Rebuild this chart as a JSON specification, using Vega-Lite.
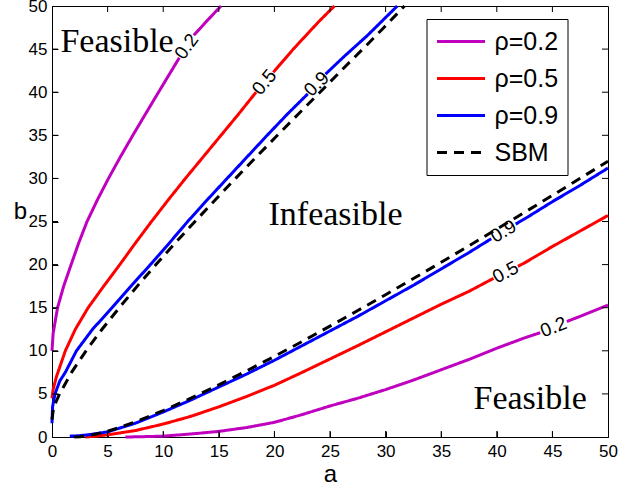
{
  "$schema": "https://vega.github.io/schema/vega-lite/v6.json",
  "width": 556,
  "height": 431,
  "autosize": {"type": "none"},
  "padding": {"left": 52, "top": 6, "right": 12, "bottom": 55},
  "background": "white",
  "config": {
    "view": {"stroke": "black", "strokeWidth": 1},
    "axis": {
      "grid": false, "domainColor": "black", "tickColor": "black", "labelColor": "black",
      "labelFont": "Liberation Sans", "labelFontSize": 17, "titleFont": "Liberation Sans",
      "titleFontSize": 24, "titleFontWeight": "normal", "titleColor": "black",
      "ticks": true, "tickSize": -6, "tickWidth": 1, "domainWidth": 1, "labelFlush": false, "labelOverlap": false, "zindex": 1
    }
  },
  "resolve": {"axis": {"x": "independent", "y": "independent"}},
  "datasets": {
    "curves": [
      {"s":"ρ=0.2","g":"pu1","a":0,"b":10},{"s":"ρ=0.2","g":"pu1","a":0.1,"b":12},{"s":"ρ=0.2","g":"pu1","a":0.3,"b":13.5},{"s":"ρ=0.2","g":"pu1","a":0.5,"b":15},{"s":"ρ=0.2","g":"pu1","a":1.05,"b":17.5},{"s":"ρ=0.2","g":"pu1","a":1.72,"b":20},{"s":"ρ=0.2","g":"pu1","a":2.4,"b":22.5},{"s":"ρ=0.2","g":"pu1","a":3.15,"b":25},{"s":"ρ=0.2","g":"pu1","a":4.08,"b":27.5},{"s":"ρ=0.2","g":"pu1","a":5.08,"b":30},{"s":"ρ=0.2","g":"pu1","a":6.15,"b":32.5},{"s":"ρ=0.2","g":"pu1","a":7.27,"b":35},{"s":"ρ=0.2","g":"pu1","a":8.42,"b":37.5},{"s":"ρ=0.2","g":"pu1","a":9.58,"b":40},{"s":"ρ=0.2","g":"pu1","a":10.75,"b":42.5},{"s":"ρ=0.2","g":"pu1","a":11.45,"b":44.0},
      {"s":"ρ=0.2","g":"pu2","a":12.75,"b":46.6},{"s":"ρ=0.2","g":"pu2","a":13.95,"b":48.3},{"s":"ρ=0.2","g":"pu2","a":15.2,"b":50},
      {"s":"ρ=0.2","g":"pl1","a":6.6,"b":0},{"s":"ρ=0.2","g":"pl1","a":8,"b":0.03},{"s":"ρ=0.2","g":"pl1","a":10,"b":0.1},{"s":"ρ=0.2","g":"pl1","a":12.5,"b":0.35},{"s":"ρ=0.2","g":"pl1","a":15,"b":0.65},{"s":"ρ=0.2","g":"pl1","a":17.5,"b":1.1},{"s":"ρ=0.2","g":"pl1","a":20,"b":1.7},{"s":"ρ=0.2","g":"pl1","a":22.5,"b":2.6},{"s":"ρ=0.2","g":"pl1","a":25,"b":3.6},{"s":"ρ=0.2","g":"pl1","a":27.5,"b":4.5},{"s":"ρ=0.2","g":"pl1","a":30,"b":5.5},{"s":"ρ=0.2","g":"pl1","a":32.5,"b":6.6},{"s":"ρ=0.2","g":"pl1","a":35,"b":7.8},{"s":"ρ=0.2","g":"pl1","a":37.5,"b":9.0},{"s":"ρ=0.2","g":"pl1","a":40,"b":10.3},{"s":"ρ=0.2","g":"pl1","a":42.5,"b":11.5},{"s":"ρ=0.2","g":"pl1","a":43.9,"b":12.1},
      {"s":"ρ=0.2","g":"pl2","a":46.3,"b":13.4},{"s":"ρ=0.2","g":"pl2","a":47.5,"b":14.0},{"s":"ρ=0.2","g":"pl2","a":50,"b":15.3},
      {"s":"ρ=0.5","g":"ru1","a":0,"b":4.5},{"s":"ρ=0.5","g":"ru1","a":0.1,"b":5.5},{"s":"ρ=0.5","g":"ru1","a":0.4,"b":7},{"s":"ρ=0.5","g":"ru1","a":0.8,"b":8.5},{"s":"ρ=0.5","g":"ru1","a":1.2,"b":10},{"s":"ρ=0.5","g":"ru1","a":2.1,"b":12.5},{"s":"ρ=0.5","g":"ru1","a":3.25,"b":15},{"s":"ρ=0.5","g":"ru1","a":4.65,"b":17.5},{"s":"ρ=0.5","g":"ru1","a":6.1,"b":20},{"s":"ρ=0.5","g":"ru1","a":7.5,"b":22.5},{"s":"ρ=0.5","g":"ru1","a":8.95,"b":25},{"s":"ρ=0.5","g":"ru1","a":10.45,"b":27.5},{"s":"ρ=0.5","g":"ru1","a":12.0,"b":30},{"s":"ρ=0.5","g":"ru1","a":13.6,"b":32.5},{"s":"ρ=0.5","g":"ru1","a":15.2,"b":35},{"s":"ρ=0.5","g":"ru1","a":16.8,"b":37.5},{"s":"ρ=0.5","g":"ru1","a":18.35,"b":40},
      {"s":"ρ=0.5","g":"ru2","a":19.9,"b":42.3},{"s":"ρ=0.5","g":"ru2","a":21.7,"b":45},{"s":"ρ=0.5","g":"ru2","a":24.0,"b":48.2},{"s":"ρ=0.5","g":"ru2","a":25.4,"b":50},
      {"s":"ρ=0.5","g":"rl1","a":3,"b":0},{"s":"ρ=0.5","g":"rl1","a":4,"b":0.1},{"s":"ρ=0.5","g":"rl1","a":5,"b":0.25},{"s":"ρ=0.5","g":"rl1","a":7.5,"b":0.75},{"s":"ρ=0.5","g":"rl1","a":10,"b":1.5},{"s":"ρ=0.5","g":"rl1","a":12.5,"b":2.4},{"s":"ρ=0.5","g":"rl1","a":15,"b":3.5},{"s":"ρ=0.5","g":"rl1","a":17.5,"b":4.7},{"s":"ρ=0.5","g":"rl1","a":20,"b":6.0},{"s":"ρ=0.5","g":"rl1","a":22.5,"b":7.5},{"s":"ρ=0.5","g":"rl1","a":25,"b":9.05},{"s":"ρ=0.5","g":"rl1","a":27.5,"b":10.6},{"s":"ρ=0.5","g":"rl1","a":30,"b":12.2},{"s":"ρ=0.5","g":"rl1","a":32.5,"b":13.8},{"s":"ρ=0.5","g":"rl1","a":35,"b":15.4},{"s":"ρ=0.5","g":"rl1","a":37.5,"b":16.9},{"s":"ρ=0.5","g":"rl1","a":39.7,"b":18.4},
      {"s":"ρ=0.5","g":"rl2","a":41.9,"b":19.8},{"s":"ρ=0.5","g":"rl2","a":42.5,"b":20.2},{"s":"ρ=0.5","g":"rl2","a":45,"b":22.1},{"s":"ρ=0.5","g":"rl2","a":47.5,"b":23.9},{"s":"ρ=0.5","g":"rl2","a":50,"b":25.7},
      {"s":"ρ=0.9","g":"bu1","a":0,"b":1.6},{"s":"ρ=0.9","g":"bu1","a":0.05,"b":3.5},{"s":"ρ=0.9","g":"bu1","a":0.27,"b":5},{"s":"ρ=0.9","g":"bu1","a":0.7,"b":6.5},{"s":"ρ=0.9","g":"bu1","a":1.2,"b":7.5},{"s":"ρ=0.9","g":"bu1","a":2.2,"b":10},{"s":"ρ=0.9","g":"bu1","a":3.65,"b":12.5},{"s":"ρ=0.9","g":"bu1","a":5.4,"b":15},{"s":"ρ=0.9","g":"bu1","a":7.1,"b":17.5},{"s":"ρ=0.9","g":"bu1","a":8.85,"b":20},{"s":"ρ=0.9","g":"bu1","a":10.55,"b":22.5},{"s":"ρ=0.9","g":"bu1","a":12.2,"b":25},{"s":"ρ=0.9","g":"bu1","a":13.95,"b":27.5},{"s":"ρ=0.9","g":"bu1","a":15.75,"b":30},{"s":"ρ=0.9","g":"bu1","a":17.55,"b":32.5},{"s":"ρ=0.9","g":"bu1","a":19.35,"b":35},{"s":"ρ=0.9","g":"bu1","a":21.2,"b":37.5},{"s":"ρ=0.9","g":"bu1","a":23.0,"b":39.8},
      {"s":"ρ=0.9","g":"bu2","a":24.6,"b":42.1},{"s":"ρ=0.9","g":"bu2","a":26.4,"b":44.3},{"s":"ρ=0.9","g":"bu2","a":28.3,"b":46.5},{"s":"ρ=0.9","g":"bu2","a":31.05,"b":50},
      {"s":"ρ=0.9","g":"bl1","a":1.6,"b":0.1},{"s":"ρ=0.9","g":"bl1","a":2.5,"b":0.15},{"s":"ρ=0.9","g":"bl1","a":3.5,"b":0.3},{"s":"ρ=0.9","g":"bl1","a":5,"b":0.6},{"s":"ρ=0.9","g":"bl1","a":7.5,"b":1.6},{"s":"ρ=0.9","g":"bl1","a":10,"b":2.9},{"s":"ρ=0.9","g":"bl1","a":12.5,"b":4.3},{"s":"ρ=0.9","g":"bl1","a":15,"b":5.8},{"s":"ρ=0.9","g":"bl1","a":17.5,"b":7.3},{"s":"ρ=0.9","g":"bl1","a":20,"b":8.9},{"s":"ρ=0.9","g":"bl1","a":22.5,"b":10.6},{"s":"ρ=0.9","g":"bl1","a":25,"b":12.3},{"s":"ρ=0.9","g":"bl1","a":27.5,"b":14.0},{"s":"ρ=0.9","g":"bl1","a":30,"b":15.8},{"s":"ρ=0.9","g":"bl1","a":32.5,"b":17.6},{"s":"ρ=0.9","g":"bl1","a":35,"b":19.5},{"s":"ρ=0.9","g":"bl1","a":37.5,"b":21.4},{"s":"ρ=0.9","g":"bl1","a":39.5,"b":23.0},
      {"s":"ρ=0.9","g":"bl2","a":41.7,"b":24.7},{"s":"ρ=0.9","g":"bl2","a":42.5,"b":25.3},{"s":"ρ=0.9","g":"bl2","a":45,"b":27.3},{"s":"ρ=0.9","g":"bl2","a":47.5,"b":29.2},{"s":"ρ=0.9","g":"bl2","a":50,"b":31.2},
      {"s":"SBM","g":"su","a":0,"b":2},{"s":"SBM","g":"su","a":0.1,"b":3},{"s":"SBM","g":"su","a":0.34,"b":4},{"s":"SBM","g":"su","a":0.68,"b":5},{"s":"SBM","g":"su","a":1.76,"b":7.5},{"s":"SBM","g":"su","a":3.06,"b":10},{"s":"SBM","g":"su","a":4.5,"b":12.5},{"s":"SBM","g":"su","a":6.05,"b":15},{"s":"SBM","g":"su","a":7.67,"b":17.5},{"s":"SBM","g":"su","a":9.35,"b":20},{"s":"SBM","g":"su","a":11.08,"b":22.5},{"s":"SBM","g":"su","a":12.86,"b":25},{"s":"SBM","g":"su","a":14.67,"b":27.5},{"s":"SBM","g":"su","a":16.51,"b":30},{"s":"SBM","g":"su","a":18.38,"b":32.5},{"s":"SBM","g":"su","a":20.27,"b":35},{"s":"SBM","g":"su","a":22.18,"b":37.5},{"s":"SBM","g":"su","a":24.1,"b":40},{"s":"SBM","g":"su","a":26.0,"b":42.5},{"s":"SBM","g":"su","a":27.95,"b":45},{"s":"SBM","g":"su","a":29.85,"b":47.5},{"s":"SBM","g":"su","a":31.7,"b":50},
      {"s":"SBM","g":"sl","a":2,"b":0},{"s":"SBM","g":"sl","a":2.5,"b":0.03},{"s":"SBM","g":"sl","a":3,"b":0.1},{"s":"SBM","g":"sl","a":4,"b":0.34},{"s":"SBM","g":"sl","a":5,"b":0.68},{"s":"SBM","g":"sl","a":6,"b":1.07},{"s":"SBM","g":"sl","a":7.5,"b":1.76},{"s":"SBM","g":"sl","a":10,"b":3.06},{"s":"SBM","g":"sl","a":12.5,"b":4.5},{"s":"SBM","g":"sl","a":15,"b":6.05},{"s":"SBM","g":"sl","a":17.5,"b":7.67},{"s":"SBM","g":"sl","a":20,"b":9.35},{"s":"SBM","g":"sl","a":22.5,"b":11.08},{"s":"SBM","g":"sl","a":25,"b":12.86},{"s":"SBM","g":"sl","a":27.5,"b":14.67},{"s":"SBM","g":"sl","a":30,"b":16.51},{"s":"SBM","g":"sl","a":32.5,"b":18.38},{"s":"SBM","g":"sl","a":35,"b":20.27},{"s":"SBM","g":"sl","a":37.5,"b":22.18},{"s":"SBM","g":"sl","a":40,"b":24.12},{"s":"SBM","g":"sl","a":42.5,"b":26.06},{"s":"SBM","g":"sl","a":45,"b":28.03},{"s":"SBM","g":"sl","a":47.5,"b":30.01},{"s":"SBM","g":"sl","a":50,"b":32.0}
    ],
    "clabels": [
      {"a":12.1,"b":45.3,"t":"0.2","ang":-54},
      {"a":19.1,"b":41.15,"t":"0.5","ang":-50},
      {"a":23.8,"b":40.95,"t":"0.9","ang":-45},
      {"a":40.6,"b":23.85,"t":"0.9","ang":-31},
      {"a":40.8,"b":19.1,"t":"0.5","ang":-28},
      {"a":45.1,"b":12.75,"t":"0.2","ang":-21}
    ],
    "regions": [
      {"a":5.85,"b":44.7,"t":"Feasible"},
      {"a":25.5,"b":24.6,"t":"Infeasible"},
      {"a":43.0,"b":3.3,"t":"Feasible"}
    ],
    "edgeticks": [
      {"v":5,"e":0},{"v":10,"e":0},{"v":15,"e":0},{"v":20,"e":0},{"v":25,"e":0},{"v":30,"e":0},{"v":35,"e":0},{"v":40,"e":0},{"v":45,"e":0},
      {"v":5,"e":50},{"v":10,"e":50},{"v":15,"e":50},{"v":20,"e":50},{"v":25,"e":50},{"v":30,"e":50},{"v":35,"e":50},{"v":40,"e":50},{"v":45,"e":50}
    ]
  },
  "layer": [
    {
      "data": {"name": "curves"},
      "transform": [{"filter": "datum.s != 'SBM'"}],
      "mark": {"type": "line", "strokeWidth": 3},
      "encoding": {
        "x": {"field": "a", "type": "quantitative", "scale": {"domain": [0, 50], "nice": false},
              "axis": {"orient": "bottom", "values": [0,5,10,15,20,25,30,35,40,45,50], "title": "a", "labelPadding": 12, "titleY": 44, "titleBaseline": "alphabetic"}},
        "y": {"field": "b", "type": "quantitative", "scale": {"domain": [0, 50], "nice": false},
              "axis": {"orient": "left", "values": [0,5,10,15,20,25,30,35,40,45,50], "title": "b", "labelPadding": 11, "titleAngle": 0, "titleX": -32, "titleY": 212, "titleAlign": "center", "titleBaseline": "alphabetic"}},
        "color": {"field": "s", "type": "nominal",
                  "scale": {"domain": ["ρ=0.2","ρ=0.5","ρ=0.9","SBM"], "range": ["#BF00BF","#FF0000","#0000FF","#000000"]},
                  "legend": {"orient": "none", "legendX": 374.5, "legendY": 13, "title": null, "symbolType": "M-2,0H2", "symbolSize": 576, "symbolStrokeWidth": 3, "symbolOffset": 12, "labelFont": "Liberation Sans", "labelFontSize": 25, "labelColor": "black", "labelOffset": 20, "rowPadding": 10, "padding": 9, "strokeColor": "black", "fillColor": "white", "cornerRadius": 0, "labelLimit": 0}},
        "strokeDash": {"field": "s", "type": "nominal",
                  "scale": {"domain": ["ρ=0.2","ρ=0.5","ρ=0.9","SBM"], "range": [[1,0],[1,0],[1,0],[10,7]]},
                  "legend": {"orient": "none", "legendX": 374.5, "legendY": 13, "title": null, "symbolType": "M-2,0H2", "symbolSize": 576, "symbolStrokeWidth": 3, "symbolOffset": 12, "labelFont": "Liberation Sans", "labelFontSize": 25, "labelColor": "black", "labelOffset": 20, "rowPadding": 10, "padding": 9, "strokeColor": "black", "fillColor": "white", "cornerRadius": 0, "labelLimit": 0}},
        "detail": {"field": "g", "type": "nominal"}
      }
    },
    {
      "data": {"name": "curves"},
      "transform": [{"filter": "datum.s == 'SBM'"}],
      "mark": {"type": "line", "strokeWidth": 3},
      "encoding": {
        "x": {"field": "a", "type": "quantitative", "axis": null},
        "y": {"field": "b", "type": "quantitative", "axis": null},
        "color": {"field": "s", "type": "nominal"},
        "strokeDash": {"field": "s", "type": "nominal"},
        "detail": {"field": "g", "type": "nominal"}
      }
    },
    {
      "data": {"name": "edgeticks"},
      "mark": {"type": "tick", "orient": "vertical", "size": 12, "thickness": 1, "color": "black", "opacity": 1, "clip": true},
      "encoding": {
        "x": {"field": "v", "type": "quantitative", "axis": null},
        "y": {"field": "e", "type": "quantitative", "axis": null}
      }
    },
    {
      "data": {"name": "edgeticks"},
      "mark": {"type": "tick", "orient": "horizontal", "size": 12, "thickness": 1, "color": "black", "opacity": 1, "clip": true},
      "encoding": {
        "x": {"field": "e", "type": "quantitative", "axis": null},
        "y": {"field": "v", "type": "quantitative", "axis": null}
      }
    },
    {
      "data": {"name": "clabels"},
      "mark": {"type": "text", "font": "Liberation Sans", "fontSize": 19, "color": "black", "align": "center", "baseline": "middle"},
      "encoding": {
        "x": {"field": "a", "type": "quantitative", "axis": null},
        "y": {"field": "b", "type": "quantitative", "axis": null},
        "text": {"field": "t"},
        "angle": {"field": "ang", "type": "quantitative", "scale": null}
      }
    },
    {
      "data": {"name": "regions"},
      "mark": {"type": "text", "font": "Liberation Serif", "fontSize": 34, "color": "black", "align": "center", "baseline": "alphabetic"},
      "encoding": {
        "x": {"field": "a", "type": "quantitative", "axis": null},
        "y": {"field": "b", "type": "quantitative", "axis": null},
        "text": {"field": "t"}
      }
    }
  ]
}
